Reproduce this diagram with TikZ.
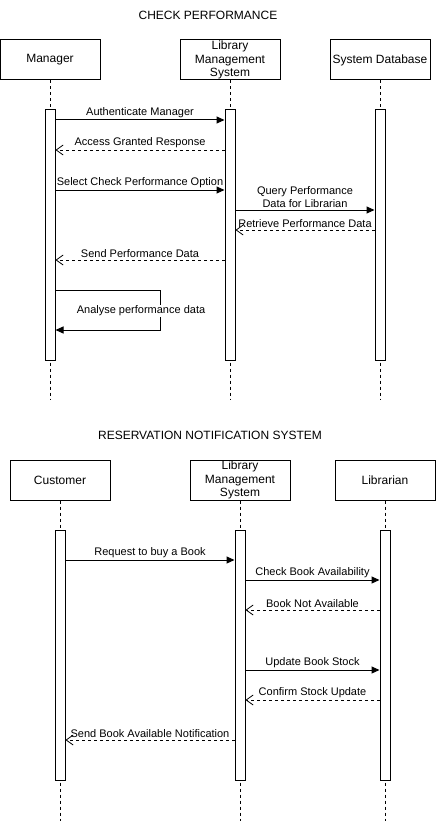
\documentclass[tikz,border=0pt]{standalone}
\usepackage{fontspec}
\setmainfont{Liberation Sans}
\usetikzlibrary{arrows.meta}
\begin{document}
\begin{tikzpicture}[x=1pt,y=-1pt,
 actor/.style={draw,line width=1pt,minimum width=100pt,minimum height=40pt,inner sep=0pt,align=center,font=\fontsize{12}{13.5}\selectfont},
 bar/.style={draw,fill=white,line width=1pt,minimum width=10pt,minimum height=250pt,inner sep=0pt},
 life/.style={line width=1pt,dash pattern=on 3pt off 3pt},
 call/.style={line width=1pt,-{Triangle[length=8pt,width=7pt]}},
 reply/.style={line width=0.8pt,dash pattern=on 3pt off 3pt,-{Straight Barb[length=7pt,width=10pt,line width=0.8pt]}},
 lbl/.style={font=\fontsize{11}{13}\selectfont,inner sep=1pt,above=1pt,align=center},
 ttl/.style={font=\fontsize{12}{14}\selectfont}
]
\useasboundingbox (0,0) rectangle (436,821);
% ---------- Diagram 1 ----------
\node[ttl] (t1) at (208,15) {CHECK PERFORMANCE};
\node[actor] (mgr) at (50,60) {Manager};
\node[actor] (lms) at (230,60) {Library\\Management\\System};
\node[actor] (db) at (380,60) {System Database};
\coordinate (mgrE) at (50,400);
\coordinate (lmsE) at (230,400);
\coordinate (dbE) at (380,400);
\draw[life] (mgr.south) -- (mgrE);
\draw[life] (lms.south) -- (lmsE);
\draw[life] (db.south) -- (dbE);
\node[bar] (bm) at (50,235) {};
\node[bar] (bl) at (230,235) {};
\node[bar] (bd) at (380,235) {};
\draw[call] (bm.east |- 0,120) -- node[lbl]{Authenticate Manager} (bl.west |- 0,120);
\draw[reply] (bl.west |- 0,150) -- node[lbl]{Access Granted Response} (bm.east |- 0,150);
\draw[call] (bm.east |- 0,190) -- node[lbl]{Select Check Performance Option} (bl.west |- 0,190);
\draw[call] (bl.east |- 0,210) -- node[lbl]{Query Performance\\Data for Librarian} (bd.west |- 0,210);
\draw[reply] (bd.west |- 0,230) -- node[lbl]{Retrieve Performance Data} (bl.east |- 0,230);
\draw[reply] (bl.west |- 0,260) -- node[lbl]{Send Performance Data} (bm.east |- 0,260);
\draw[call] (bm.east |- 0,290) -- (160,290) -- (160,330) -- (bm.east |- 0,330);
\node[font=\fontsize{11}{13}\selectfont,fill=white,inner sep=1pt] (self) at (141,311) {Analyse performance data};
% ---------- Diagram 2 ----------
\node[ttl] (t2) at (210,435) {RESERVATION NOTIFICATION SYSTEM};
\node[actor] (cus) at (60,480) {Customer};
\node[actor] (lms2) at (240,480) {Library\\Management\\System};
\node[actor] (lib) at (385,480) {Librarian};
\coordinate (cusE) at (60,821);
\coordinate (lms2E) at (240,821);
\coordinate (libE) at (385,821);
\draw[life] (cus.south) -- (cusE);
\draw[life] (lms2.south) -- (lms2E);
\draw[life] (lib.south) -- (libE);
\node[bar] (bc) at (60,655) {};
\node[bar] (bl2) at (240,655) {};
\node[bar] (bb) at (385,655) {};
\draw[call] (bc.east |- 0,560) -- node[lbl]{Request to buy a Book} (bl2.west |- 0,560);
\draw[call] (bl2.east |- 0,580) -- node[lbl]{Check Book Availability} (bb.west |- 0,580);
\draw[reply] (bb.west |- 0,610) -- node[lbl]{Book Not Available} (bl2.east |- 0,610);
\draw[call] (bl2.east |- 0,670) -- node[lbl]{Update Book Stock} (bb.west |- 0,670);
\draw[reply] (bb.west |- 0,700) -- node[lbl]{Confirm Stock Update} (bl2.east |- 0,700);
\draw[reply] (bl2.west |- 0,740) -- node[lbl]{Send Book Available Notification} (bc.east |- 0,740);
\end{tikzpicture}
\end{document}
